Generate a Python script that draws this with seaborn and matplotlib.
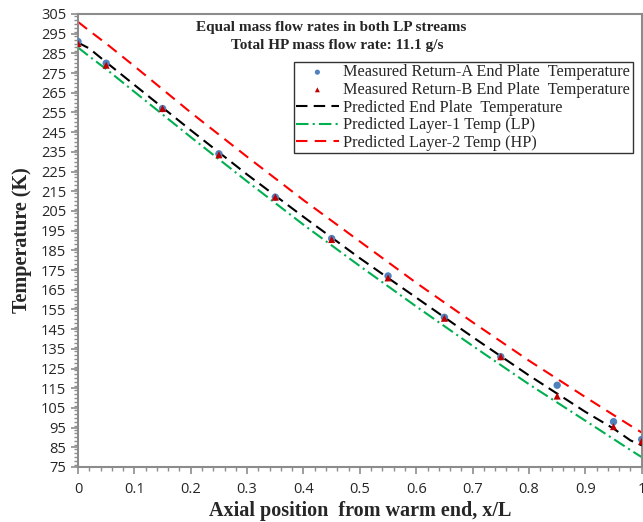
import numpy as np
import pandas as pd
import seaborn as sns
import matplotlib.pyplot as plt
from matplotlib.ticker import MultipleLocator

# measured end plate temperatures (K)
x_meas = [0.0, 0.05, 0.15, 0.25, 0.35, 0.45, 0.55, 0.65, 0.75, 0.85, 0.95, 1.0]
temp_a = [291, 280, 257, 234, 212, 191, 172, 151, 131, 116.5, 98, 89]
temp_b = [290, 279, 257, 233.5, 212, 190.5, 171, 150.5, 131, 111, 95.5, 88]

# predicted profiles
x_pred = [0.0, 0.02, 0.05, 0.1, 0.2, 0.3, 0.4, 0.5, 0.6, 0.7, 0.8, 0.9, 0.95, 0.98, 1.0]
temp_end = [290.5, 287.5, 280.5, 269, 246, 223.5, 202, 181, 161, 141, 121.5, 103, 94.5, 88.5, 86]
temp_lp = [288, 283.5, 277, 265.5, 242.5, 220, 198, 177, 156.5, 136.5, 117, 98.5, 89.2, 83.6, 80]
temp_hp = [301, 296.5, 290, 278.5, 255, 232.5, 210.5, 189.5, 168.5, 148.5, 129, 110.5, 101.4, 96, 92.5]

sns.set_style("white")
fig = plt.figure(figsize=(6.43, 5.22), dpi=100)
ax = fig.add_axes([0.1213, 0.1054, 0.8767, 0.8678])

pred = pd.DataFrame({"x": x_pred, "end": temp_end, "lp": temp_lp, "hp": temp_hp})
meas = pd.DataFrame({"x": x_meas, "a": temp_a, "b": temp_b})

sns.scatterplot(data=meas, x="x", y="a", ax=ax, color="#4F81BD", marker="o", s=28,
                edgecolor="none", label="Measured Return-A End Plate  Temperature", zorder=4)
sns.scatterplot(data=meas, x="x", y="b", ax=ax, color="#C00000", marker="^", s=26,
                edgecolor="none", label="Measured Return-B End Plate  Temperature", zorder=5)
sns.lineplot(data=pred, x="x", y="end", ax=ax, color="black", lw=1.5,
             label="Predicted End Plate  Temperature", zorder=3)
sns.lineplot(data=pred, x="x", y="lp", ax=ax, color="#00B050", lw=1.5,
             label="Predicted Layer-1 Temp (LP)", zorder=2)
sns.lineplot(data=pred, x="x", y="hp", ax=ax, color="#FF0000", lw=1.5,
             label="Predicted Layer-2 Temp (HP)", zorder=2)
lines = ax.get_lines()
lines[0].set_dashes([5.5, 3])
lines[1].set_dashes([6, 2, 1, 2])
lines[2].set_dashes([5.5, 3.5])

ax.set_xlim(0, 1)
ax.set_ylim(75, 305)
ax.xaxis.set_major_locator(MultipleLocator(0.1))
ax.xaxis.set_minor_locator(MultipleLocator(0.02))
ax.yaxis.set_major_locator(MultipleLocator(10))
ax.yaxis.set_minor_locator(MultipleLocator(2))
ax.set_xticks(np.arange(0, 1.01, 0.1))
ax.set_xticklabels(["0", "0.1", "0.2", "0.3", "0.4", "0.5", "0.6", "0.7", "0.8", "0.9", "1"])
ax.set_yticks(np.arange(75, 306, 10))

for s in ax.spines.values():
    s.set_color("#8C8C8C")
    s.set_linewidth(1.5)
ax.tick_params(which="major", direction="out", length=5, width=1.2, color="#8C8C8C",
               labelsize=10.5, bottom=True, left=True)
ax.tick_params(which="minor", direction="out", length=3, width=1, color="#8C8C8C",
               bottom=True, left=True)
ax.tick_params(axis="x", pad=6)
for lab in ax.get_xticklabels() + ax.get_yticklabels():
    lab.set_family("Open Sans")

ax.set_xlabel("Axial position  from warm end, x/L", family="Liberation Serif",
              fontsize=14.5, fontweight="bold", labelpad=3)
ax.set_ylabel("Temperature (K)", family="Liberation Serif", fontsize=14.5,
              fontweight="bold", labelpad=6)

ax.text(0.45, 0.985, "Equal mass flow rates in both LP streams", transform=ax.transAxes,
        ha="center", va="top", family="Liberation Serif", fontsize=11, fontweight="bold")
ax.text(0.46, 0.945, "Total HP mass flow rate: 11.1 g/s", transform=ax.transAxes,
        ha="center", va="top", family="Liberation Serif", fontsize=11, fontweight="bold")

leg = ax.legend(loc="upper right", bbox_to_anchor=(0.984, 0.894), frameon=True,
                fancybox=False, edgecolor="black", prop={"family": "Liberation Serif", "size": 11.7},
                handlelength=2.6, handletextpad=0.3, labelspacing=0.1, borderpad=0.15,
                borderaxespad=0, markerscale=0.7)
leg.get_frame().set_linewidth(1.0)

fig.savefig("out.png", dpi=100)
